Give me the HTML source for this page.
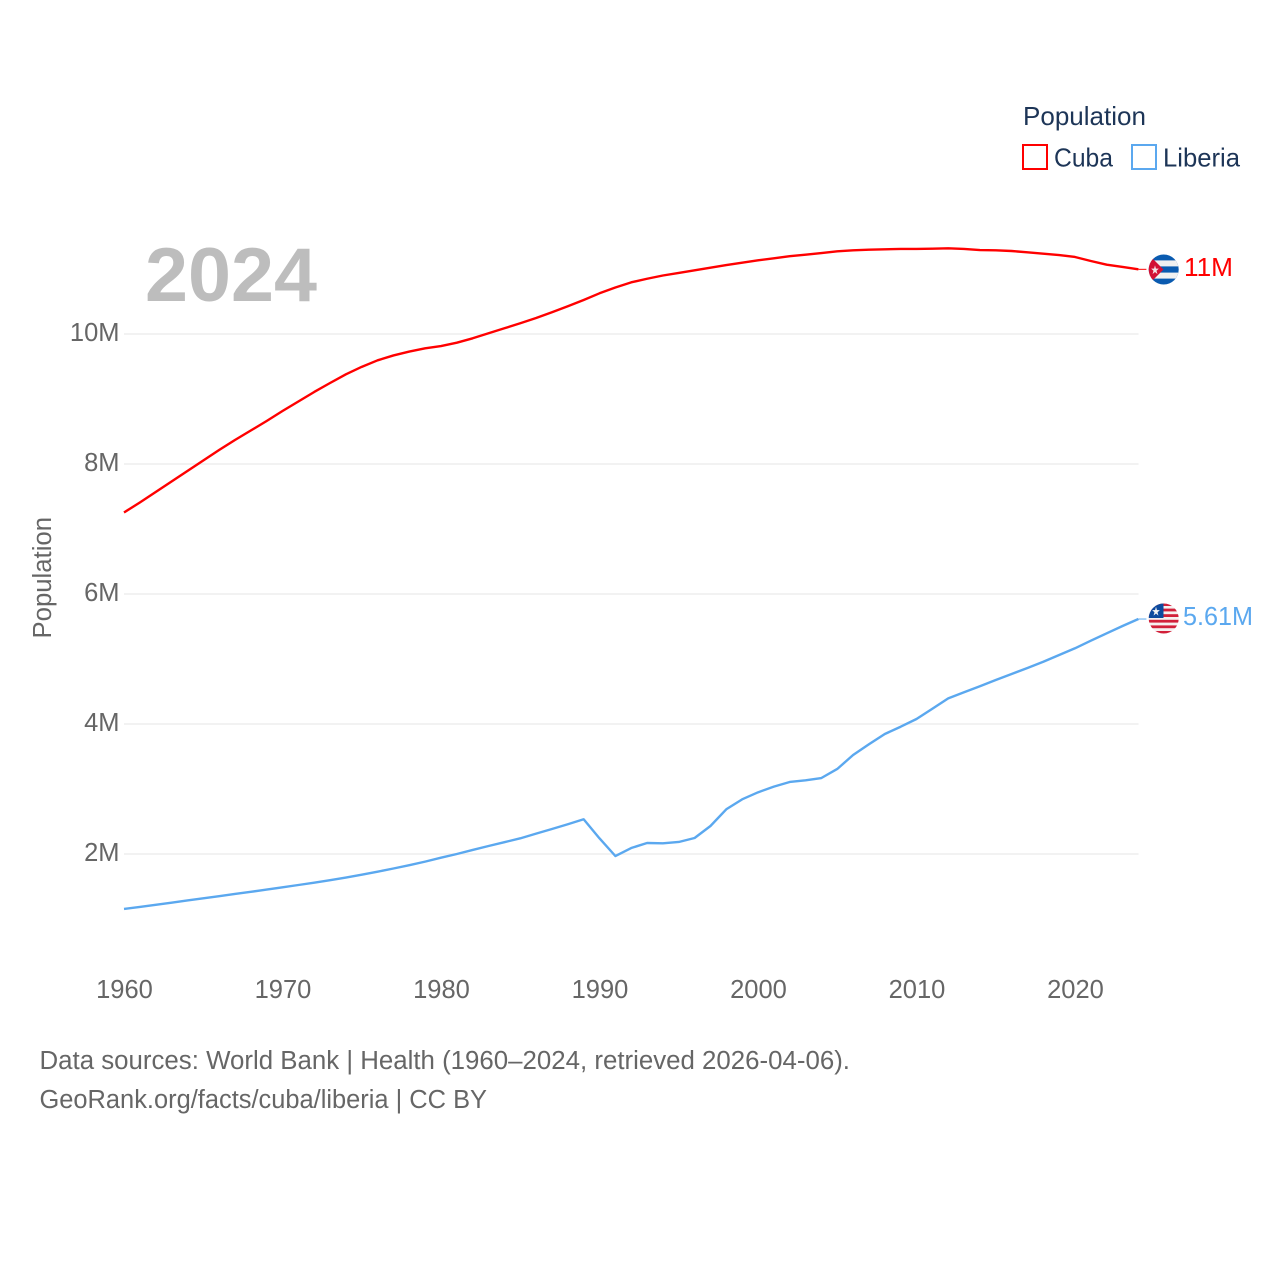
<!DOCTYPE html>
<html lang="en">
<head>
<meta charset="utf-8">
<title>Population: Cuba and Liberia</title>
<style>
html,body{margin:0;padding:0;background:#fff;width:1280px;height:1280px;overflow:hidden}
svg{display:block;font-family:"Liberation Sans",sans-serif}
</style>
</head>
<body>
<svg id="chart" xmlns="http://www.w3.org/2000/svg" width="1280" height="1280" viewBox="0 0 1280 1280">
  <defs>
    <clipPath id="clip-cuba"><circle cx="1163.7" cy="269.5" r="15"/></clipPath>
    <clipPath id="clip-liberia"><circle cx="1163.7" cy="618.5" r="15"/></clipPath>
  </defs>
  <g id="grid"></g>
  <g id="yticks"></g>
  <g id="xticks"></g>
  <text transform="translate(51,638.5) rotate(-90)" font-size="25.5" fill="#666" textLength="121.5" lengthAdjust="spacingAndGlyphs">Population</text>
  <text x="145" y="301" font-size="76" font-weight="700" fill="#bdbdbd" textLength="172" lengthAdjust="spacingAndGlyphs">2024</text>

  <g id="series"></g>

  <g clip-path="url(#clip-cuba)">
    <rect x="1148" y="254" width="32" height="31" fill="#0a5bb0"/>
    <rect x="1148" y="260.4" width="32" height="6" fill="#f1f1f1"/>
    <rect x="1148" y="272.6" width="32" height="6" fill="#f1f1f1"/>
    <polygon points="1148,254 1163.5,269.5 1148,285" fill="#d21034"/>
    <text x="1150.5" y="274" font-size="12" fill="#f4e4e6" textLength="9" lengthAdjust="spacingAndGlyphs">★</text>
  </g>
  <g clip-path="url(#clip-liberia)">
    <rect x="1148" y="603" width="32" height="31" fill="#f6f0f0"/>
    <rect x="1148" y="603" width="32" height="3" fill="#d2203a"/>
    <rect x="1148" y="608.6" width="32" height="2.8" fill="#d2203a"/>
    <rect x="1148" y="614.2" width="32" height="2.8" fill="#d2203a"/>
    <rect x="1148" y="619.8" width="32" height="2.8" fill="#d2203a"/>
    <rect x="1148" y="625.4" width="32" height="2.8" fill="#d2203a"/>
    <rect x="1148" y="631" width="32" height="3" fill="#d2203a"/>
    <rect x="1148" y="603" width="15.5" height="15" fill="#0d4a9e"/>
    <text x="1151.5" y="615.5" font-size="12" fill="#f4f4f4" textLength="9" lengthAdjust="spacingAndGlyphs">★</text>
  </g>
  <text x="1184" y="276" font-size="25.5" fill="#ff0000" textLength="49" lengthAdjust="spacingAndGlyphs">11M</text>
  <text x="1183" y="625" font-size="25.5" fill="#5ba8ef" textLength="70" lengthAdjust="spacingAndGlyphs">5.61M</text>

  <g>
    <text x="1023" y="125" font-size="26" fill="#1d3557" textLength="123" lengthAdjust="spacingAndGlyphs">Population</text>
    <g>
      <rect x="1023" y="145" width="24" height="24" fill="none" stroke="#ff0000" stroke-width="2"/>
      <text x="1054" y="166.5" font-size="26" fill="#1d3557" textLength="59" lengthAdjust="spacingAndGlyphs">Cuba</text>
    </g>
    <g>
      <rect x="1132" y="145" width="24" height="24" fill="none" stroke="#5ba8ef" stroke-width="2"/>
      <text x="1163" y="166.5" font-size="26" fill="#1d3557" textLength="77" lengthAdjust="spacingAndGlyphs">Liberia</text>
    </g>
  </g>

  <text x="39.5" y="1069" font-size="25.5" fill="#666" textLength="810.5" lengthAdjust="spacingAndGlyphs">Data sources: World Bank | Health (1960–2024, retrieved 2026-04-06).</text>
  <text x="39.5" y="1108" font-size="25.5" fill="#666" textLength="447.5" lengthAdjust="spacingAndGlyphs">GeoRank.org/facts/cuba/liberia | CC BY</text>
</svg>
<script>
const startYear = 1960;
const cubaValues = [7.254,7.408,7.569,7.731,7.892,8.054,8.215,8.369,8.515,8.662,8.815,8.962,9.108,9.246,9.38,9.495,9.595,9.67,9.73,9.78,9.815,9.866,9.934,10.011,10.088,10.165,10.246,10.335,10.426,10.523,10.626,10.715,10.795,10.85,10.9,10.94,10.98,11.02,11.06,11.097,11.134,11.165,11.197,11.22,11.246,11.272,11.288,11.297,11.303,11.308,11.308,11.312,11.318,11.308,11.292,11.288,11.277,11.257,11.235,11.215,11.185,11.123,11.066,11.031,10.995];
const liberiaValues = [1.154,1.186,1.218,1.251,1.285,1.318,1.351,1.385,1.418,1.452,1.487,1.523,1.558,1.597,1.638,1.682,1.728,1.777,1.828,1.883,1.943,2.0,2.062,2.123,2.182,2.241,2.314,2.385,2.458,2.534,2.241,1.969,2.092,2.169,2.165,2.185,2.246,2.431,2.688,2.841,2.949,3.036,3.108,3.134,3.169,3.308,3.523,3.688,3.846,3.958,4.077,4.235,4.395,4.488,4.58,4.677,4.769,4.862,4.958,5.062,5.165,5.282,5.395,5.508,5.615];
const yTickValues = [2,4,6,8,10];
const yTickLabels = ['2M','4M','6M','8M','10M'];
const xTickYears = [1960,1970,1980,1990,2000,2010,2020];

const SVGNS = 'http://www.w3.org/2000/svg';
function xScale(year){ return 124 + (year - 1960) * 15.85; }
function yScale(v){ return 984 - v * 65; }

const grid = document.getElementById('grid');
const yticks = document.getElementById('yticks');
const xticks = document.getElementById('xticks');
const series = document.getElementById('series');

yTickValues.forEach(function(v, i){
  const line = document.createElementNS(SVGNS, 'line');
  
  
  line.setAttribute('x1', 124);
  line.setAttribute('x2', 1138.5);
  line.setAttribute('y1', yScale(v));
  line.setAttribute('y2', yScale(v));
  line.setAttribute('stroke', '#eeeeee');
  line.setAttribute('stroke-width', '1.6');
  grid.appendChild(line);

  const label = document.createElementNS(SVGNS, 'text');
  
  
  label.setAttribute('x', 119.5);
  label.setAttribute('y', yScale(v) + 7);
  label.setAttribute('text-anchor', 'end');
  label.setAttribute('font-size', '25.5');
  label.setAttribute('fill', '#666');
  label.textContent = yTickLabels[i];
  yticks.appendChild(label);
});

xTickYears.forEach(function(year){
  const label = document.createElementNS(SVGNS, 'text');
  
  
  label.setAttribute('x', xScale(year) + 0.5);
  label.setAttribute('y', 998);
  label.setAttribute('text-anchor', 'middle');
  label.setAttribute('font-size', '25.5');
  label.setAttribute('fill', '#666');
  label.textContent = String(year);
  xticks.appendChild(label);
});

function pathFor(values){
  let d = '';
  values.forEach(function(v, i){
    d += (i === 0 ? 'M' : 'L') + xScale(startYear + i).toFixed(2) + ' ' + yScale(v).toFixed(2);
  });
  return d;
}

const cubaLine = document.createElementNS(SVGNS, 'path');


cubaLine.setAttribute('d', pathFor(cubaValues));
cubaLine.setAttribute('fill', 'none');
cubaLine.setAttribute('stroke', '#ff0000');
cubaLine.setAttribute('stroke-width', '2.4');
cubaLine.setAttribute('stroke-linejoin', 'round');
series.appendChild(cubaLine);

const liberiaLine = document.createElementNS(SVGNS, 'path');


liberiaLine.setAttribute('d', pathFor(liberiaValues));
liberiaLine.setAttribute('fill', 'none');
liberiaLine.setAttribute('stroke', '#5ba8ef');
liberiaLine.setAttribute('stroke-width', '2.4');
liberiaLine.setAttribute('stroke-linejoin', 'round');
series.appendChild(liberiaLine);

const lastX = xScale(startYear + cubaValues.length - 1);

const cubaConnector = document.createElementNS(SVGNS, 'line');


cubaConnector.setAttribute('x1', lastX);
cubaConnector.setAttribute('x2', lastX + 8);
cubaConnector.setAttribute('y1', yScale(cubaValues[cubaValues.length - 1]));
cubaConnector.setAttribute('y2', yScale(cubaValues[cubaValues.length - 1]));
cubaConnector.setAttribute('stroke', '#ff0000');
cubaConnector.setAttribute('stroke-width', '1');
series.appendChild(cubaConnector);

const liberiaConnector = document.createElementNS(SVGNS, 'line');


liberiaConnector.setAttribute('x1', lastX);
liberiaConnector.setAttribute('x2', lastX + 8);
liberiaConnector.setAttribute('y1', yScale(liberiaValues[liberiaValues.length - 1]));
liberiaConnector.setAttribute('y2', yScale(liberiaValues[liberiaValues.length - 1]));
liberiaConnector.setAttribute('stroke', '#5ba8ef');
liberiaConnector.setAttribute('stroke-width', '1');
series.appendChild(liberiaConnector);
</script>
</body>
</html>
